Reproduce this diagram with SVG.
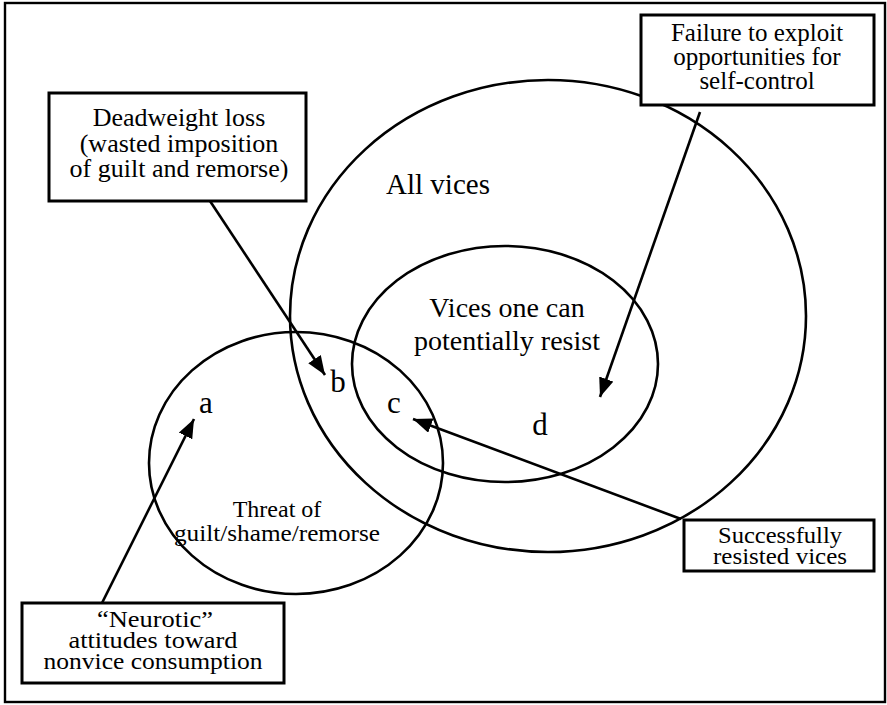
<svg xmlns="http://www.w3.org/2000/svg" width="887" height="705" viewBox="0 0 887 705">
<style>
.t{font-family:"Liberation Serif","Times New Roman",serif;fill:#000;text-anchor:middle}
.box{fill:#fff;stroke:#000;stroke-width:3}
.set{fill:none;stroke:#000;stroke-width:2.6}
.arr{fill:none;stroke:#000;stroke-width:2.6;marker-end:url(#ah)}
</style>
<defs>
<marker id="ah" markerUnits="userSpaceOnUse" markerWidth="20" markerHeight="16" refX="19" refY="7.5" orient="auto">
<path d="M0,0 L19,7.5 L0,15 z" fill="#000"/>
</marker>
</defs>
<rect x="0" y="0" width="887" height="705" fill="#fff"/>
<rect id="frame" x="5" y="3" width="880" height="699" fill="none" stroke="#000" stroke-width="2.4"/>
<g id="all-vices">
<ellipse class="set" cx="548" cy="316" rx="258" ry="236"/>
<text class="t" x="438" y="194" font-size="29">All vices</text>
</g>
<g id="resistible">
<ellipse class="set" cx="505" cy="364" rx="153" ry="118"/>
<text class="t" x="507" y="317" font-size="28">Vices one can</text>
<text class="t" x="507" y="350" font-size="28">potentially resist</text>
</g>
<g id="threat">
<ellipse class="set" cx="296" cy="463" rx="147" ry="131"/>
<text class="t" x="277" y="517" font-size="24">Threat of</text>
<text class="t" x="277" y="541" font-size="24" textLength="206" lengthAdjust="spacingAndGlyphs">guilt/shame/remorse</text>
</g>
<g id="regions" class="t" font-size="31">
<text x="206" y="413">a</text>
<text x="338" y="392">b</text>
<text x="394" y="413">c</text>
<text x="540" y="435">d</text>
</g>
<g id="connectors">
<line class="arr" x1="210" y1="201" x2="325" y2="375"/>
<line class="arr" x1="700" y1="112" x2="600" y2="397"/>
<line class="arr" x1="681" y1="519" x2="413" y2="419"/>
<line class="arr" x1="102" y1="603" x2="194" y2="419"/>
</g>
<g id="deadweight">
<rect class="box" x="49" y="93" width="257" height="108"/>
<text class="t" x="179" y="126" font-size="26">Deadweight loss</text>
<text class="t" x="179" y="152" font-size="26">(wasted imposition</text>
<text class="t" x="179" y="177" font-size="26">of guilt and remorse)</text>
</g>
<g id="failure">
<rect class="box" x="641" y="15" width="233" height="90"/>
<text class="t" x="757" y="41" font-size="25">Failure to exploit</text>
<text class="t" x="757" y="65" font-size="25">opportunities for</text>
<text class="t" x="757" y="89" font-size="25">self-control</text>
</g>
<g id="resisted">
<rect class="box" x="684" y="520" width="190" height="51"/>
<text class="t" x="780" y="543" font-size="23" textLength="124" lengthAdjust="spacingAndGlyphs">Successfully</text>
<text class="t" x="780" y="564" font-size="23" textLength="134" lengthAdjust="spacingAndGlyphs">resisted vices</text>
</g>
<g id="neurotic">
<rect class="box" x="22" y="603" width="262" height="80"/>
<text class="t" x="155" y="627" font-size="23" textLength="116" lengthAdjust="spacingAndGlyphs">“Neurotic”</text>
<text class="t" x="153" y="648" font-size="23" textLength="169" lengthAdjust="spacingAndGlyphs">attitudes toward</text>
<text class="t" x="153" y="669" font-size="23" textLength="219" lengthAdjust="spacingAndGlyphs">nonvice consumption</text>
</g>
</svg>
